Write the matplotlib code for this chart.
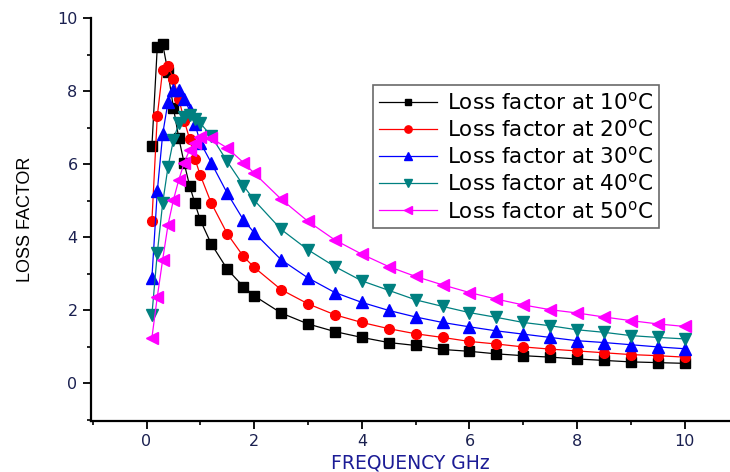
import matplotlib
matplotlib.use('Agg')
import matplotlib.pyplot as plt
from matplotlib.ticker import MultipleLocator

plt.rcParams['font.family'] = ['DejaVu Sans']

# frequency (GHz) - same sampling for every curve
freq = [0.1, 0.2, 0.3, 0.4, 0.5, 0.6, 0.7, 0.8, 0.9, 1.0, 1.2, 1.5, 1.8, 2.0,
        2.5, 3.0, 3.5, 4.0, 4.5, 5.0, 5.5, 6.0, 6.5, 7.0, 7.5, 8.0, 8.5, 9.0, 9.5, 10.0]

# loss factor
loss_10 = [6.5, 9.22, 9.3, 8.52, 7.55, 6.72, 6.03, 5.42, 4.93, 4.47, 3.83, 3.13, 2.65, 2.4,
           1.93, 1.63, 1.42, 1.26, 1.12, 1.04, 0.93, 0.88, 0.81, 0.76, 0.72, 0.67, 0.63, 0.59, 0.57, 0.55]
loss_20 = [4.45, 7.33, 8.59, 8.7, 8.35, 7.8, 7.2, 6.7, 6.15, 5.7, 4.95, 4.1, 3.48, 3.18,
           2.57, 2.18, 1.88, 1.67, 1.5, 1.36, 1.26, 1.15, 1.08, 1.0, 0.94, 0.89, 0.84, 0.79, 0.76, 0.72]
loss_30 = [2.9, 5.26, 6.83, 7.72, 8.03, 8.03, 7.8, 7.48, 7.1, 6.6, 6.05, 5.21, 4.48, 4.13,
           3.39, 2.89, 2.49, 2.22, 2.0, 1.82, 1.67, 1.55, 1.44, 1.35, 1.26, 1.17, 1.12, 1.06, 1.0, 0.95]
loss_40 = [1.88, 3.57, 4.94, 5.94, 6.67, 7.13, 7.3, 7.36, 7.25, 7.13, 6.78, 6.08, 5.42, 5.02,
           4.22, 3.66, 3.2, 2.81, 2.55, 2.29, 2.11, 1.94, 1.81, 1.67, 1.58, 1.47, 1.4, 1.31, 1.26, 1.22]
loss_50 = [1.25, 2.37, 3.39, 4.35, 5.03, 5.58, 6.05, 6.4, 6.6, 6.75, 6.72, 6.45, 6.05, 5.76,
           5.05, 4.44, 3.93, 3.54, 3.2, 2.93, 2.7, 2.49, 2.31, 2.15, 2.02, 1.93, 1.82, 1.72, 1.63, 1.56]

temps = ['10', '20', '30', '40', '50']
series = [loss_10, loss_20, loss_30, loss_40, loss_50]
colors = ['black', 'red', 'blue', '#008080', 'magenta']
markers = ['s', 'o', '^', 'v', '<']
msizes = [6.5, 7, 8.5, 8.5, 8.5]

fig = plt.figure(figsize=(7.3, 4.72), dpi=100)
ax = fig.add_axes([0.1244, 0.108, 0.8756, 0.853])

for t, y, c, m, ms in zip(temps, series, colors, markers, msizes):
    ax.plot(freq, y, color=c, marker=m, markersize=ms, linewidth=0.9,
            markeredgecolor=c, label='Loss factor at ' + t + r'$^{\rm o}$C')

ax.set_xlim(-1.035, 10.84)
ax.set_ylim(-1.03, 10)
ax.xaxis.set_major_locator(MultipleLocator(2))
ax.xaxis.set_minor_locator(MultipleLocator(1))
ax.yaxis.set_major_locator(MultipleLocator(2))
ax.yaxis.set_minor_locator(MultipleLocator(1))

ax.spines['top'].set_visible(False)
ax.spines['right'].set_visible(False)
for s in ['left', 'bottom']:
    ax.spines[s].set_linewidth(1.6)

ax.tick_params(which='major', direction='out', length=6, width=1.3,
               labelsize=11.5, labelcolor='#1a2050')
ax.tick_params(which='minor', direction='out', length=3, width=1.2)

ax.set_xlabel('FREQUENCY GHz', fontsize=13.5, color='#1c1c96', labelpad=3)
ax.set_ylabel('LOSS FACTOR', fontsize=13, color='black', labelpad=17,
              family='Liberation Sans')

leg = ax.legend(loc='upper left', bbox_to_anchor=(0.441, 0.835), fontsize=15.5,
                handlelength=2.7, labelspacing=0.24, markerscale=0.75,
                fancybox=False, edgecolor='#444444', borderpad=0.3,
                handletextpad=0.45, borderaxespad=0)
leg.get_frame().set_linewidth(1.2)

fig.savefig('out.png', dpi=100)
